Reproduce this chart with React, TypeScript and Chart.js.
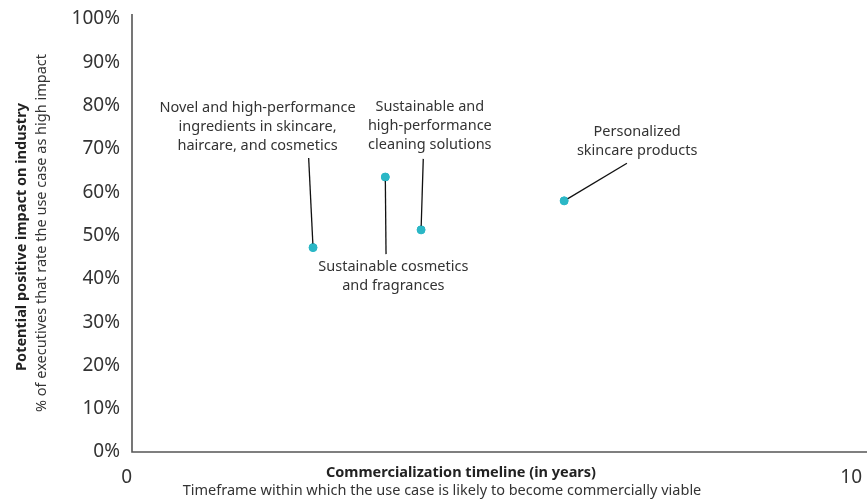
import React, { useEffect, useRef } from "react";
import { Chart, registerables } from "chart.js";
Chart.register(...registerables);

const useCases = [
  "Novel and high-performance ingredients in skincare, haircare, and cosmetics",
  "Sustainable cosmetics and fragrances",
  "Sustainable and high-performance cleaning solutions",
  "Personalized skincare products",
];
const timelineYears = [2.48, 3.47, 3.96, 5.92];
const impactPct = [47.2, 63.5, 51.3, 58.0];
const xTickValues = [0, 10];

// annotation text lines, label anchor (data units) and leader end (data units)
const labelLines = [
  ["Novel and high-performance", "ingredients in skincare,", "haircare, and cosmetics"],
  ["Sustainable cosmetics", "and fragrances"],
  ["Sustainable and", "high-performance", "cleaning solutions"],
  ["Personalized", "skincare products"],
];
const labelX = [1.72, 3.58, 4.08, 6.92];
const labelY = [79.4, 42.7, 79.7, 73.9];
const leaderX = [2.42, 3.48, 3.99, 6.78];
const leaderY = [67.9, 45.7, 67.7, 66.7];

const FONT = "'Noto Sans', sans-serif";

const annotationPlugin = {
  id: "annots",
  afterDatasetsDraw(chart: any) {
    const ctx = chart.ctx;
    const xs = chart.scales.x;
    const ys = chart.scales.y;
    const meta = chart.getDatasetMeta(0);
    ctx.save();
    ctx.strokeStyle = "#111";
    ctx.lineWidth = 1.3;
    meta.data.forEach((pt: any, i: number) => {
      ctx.beginPath();
      ctx.moveTo(pt.x, pt.y);
      ctx.lineTo(xs.getPixelForValue(leaderX[i]), ys.getPixelForValue(leaderY[i]));
      ctx.stroke();
    });
    meta.data.forEach((pt: any) => {
      ctx.beginPath();
      ctx.fillStyle = "#2bb7c6";
      ctx.arc(pt.x, pt.y, 4, 0, Math.PI * 2);
      ctx.fill();
    });
    ctx.fillStyle = "#333";
    ctx.font = `14.5px ${FONT}`;
    ctx.textAlign = "center";
    ctx.textBaseline = "middle";
    labelLines.forEach((lines, i) => {
      const cx = xs.getPixelForValue(labelX[i]);
      const cy = ys.getPixelForValue(labelY[i]);
      lines.forEach((t, j) => ctx.fillText(t, cx, cy + j * 19));
    });
    const ca = chart.chartArea;
    ctx.fillStyle = "#222";
    ctx.font = `bold 14.5px ${FONT}`;
    ctx.fillText("Commercialization timeline (in years)", 461, ca.bottom + 21);
    ctx.fillStyle = "#333";
    ctx.font = `14.5px ${FONT}`;
    ctx.fillText("Timeframe within which the use case is likely to become commercially viable", 442, ca.bottom + 39);
    const midY = 237;
    ctx.save();
    ctx.translate(22, midY);
    ctx.rotate(-Math.PI / 2);
    ctx.fillStyle = "#222";
    ctx.font = `bold 14.5px ${FONT}`;
    ctx.fillText("Potential positive impact on industry", 0, 0);
    ctx.restore();
    ctx.save();
    ctx.translate(42, midY - 4);
    ctx.rotate(-Math.PI / 2);
    ctx.fillStyle = "#333";
    ctx.font = `14.5px ${FONT}`;
    ctx.fillText("% of executives that rate the use case as high impact", 0, 0);
    ctx.restore();
    ctx.strokeStyle = "#555";
    ctx.lineWidth = 1.6;
    ctx.beginPath();
    ctx.moveTo(ca.left, ca.top - 5);
    ctx.lineTo(ca.left, ca.bottom);
    ctx.lineTo(867, ca.bottom);
    ctx.stroke();
    ctx.restore();
  },
};

export default function App() {
  const ref = useRef<HTMLCanvasElement>(null);
  useEffect(() => {
    if (!ref.current) return;
    const chart = new Chart(ref.current, {
      type: "scatter",
      data: {
        datasets: [
          {
            label: "Use cases",
            data: timelineYears.map((x, i) => ({ x, y: impactPct[i], name: useCases[i] })),
            backgroundColor: "#2bb7c6",
            borderColor: "#2bb7c6",
            pointRadius: 4,
          },
        ],
      },
      options: {
        animation: false,
        responsive: false,
        maintainAspectRatio: false,
        layout: { padding: { top: 19, right: 5, left: 0, bottom: 0 } },
        plugins: { legend: { display: false }, tooltip: { enabled: false } },
        scales: {
          x: {
            type: "linear",
            min: 0,
            max: 10,
            border: { display: false },
            grid: { display: false, drawTicks: false },
            afterBuildTicks: (s: any) => {
              s.ticks = xTickValues.map((v) => ({ value: v }));
            },
            afterFit: (s: any) => {
              s.height = 49;
              s.paddingRight = 0;
              s.paddingLeft = 0;
            },
            ticks: {
              align: "end",
              padding: 14,
              color: "#333",
              font: { family: FONT, size: 19 },
              callback: (v: any) => String(v),
            },
          },
          y: {
            min: 0,
            max: 100,
            border: { display: false },
            grid: { display: false, drawTicks: false },
            afterFit: (s: any) => {
              s.width = 132;
              s.paddingTop = 0;
              s.paddingBottom = 0;
            },
            ticks: {
              stepSize: 10,
              padding: 12,
              color: "#333",
              font: { family: FONT, size: 19 },
              callback: (v: any) => v + "%",
            },
          },
        },
      },
      plugins: [annotationPlugin],
    });
    return () => chart.destroy();
  }, []);
  return (
    <div style={{ position: "fixed", left: 0, top: 0, width: 867, height: 501, background: "#fff" }}>
      <canvas ref={ref} width={867} height={501} style={{ width: 867, height: 501 }} />
    </div>
  );
}
